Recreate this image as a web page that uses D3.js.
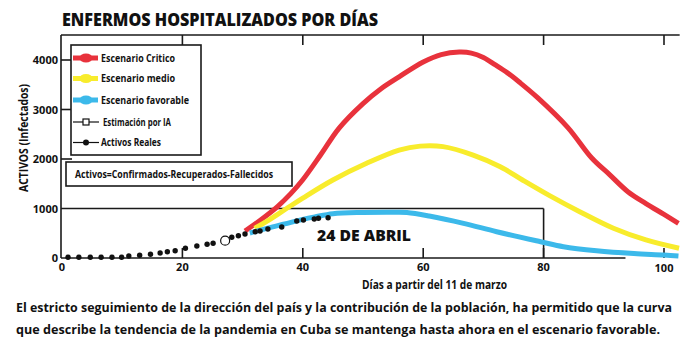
<!DOCTYPE html>
<html>
<head>
<meta charset="utf-8">
<script src="https://cdn.jsdelivr.net/npm/d3@7"></script>
<style>
  body { margin: 0; background: #fff; }
  text { font-family: 'Liberation Sans Narrow', 'Open Sans', sans-serif; font-weight: bold; fill: #111; }
</style>
</head>
<body>
<div id="chart"></div>
<script>
// Escenarios (día desde el 11 de marzo, activos)
const criticoDias = [30.4, 33, 35.8, 38, 40, 43, 46, 50, 53, 56, 60, 63, 66, 68, 70, 72, 74, 76, 79, 84, 88, 91, 94, 97, 100, 102.4]
const criticoVals = [545, 770, 1040, 1300, 1580, 2090, 2620, 3120, 3420, 3660, 3960, 4110, 4160, 4140, 4050, 3900, 3740, 3550, 3240, 2640, 2020, 1680, 1340, 1100, 880, 700]

const medioDias = [32, 34, 37.3, 40, 45, 50.6, 56, 59.5, 63.3, 68.3, 72.8, 76.5, 81, 86, 91.6, 97, 102.5]
const medioVals = [600, 740, 1000, 1210, 1576, 1913, 2180, 2260, 2250, 2080, 1845, 1576, 1260, 935, 600, 364, 196]

const favorableDias = [31.2, 34, 37, 40, 42, 45, 50, 55, 57.3, 61, 66.7, 72.2, 79.5, 83.3, 88.8, 95, 100, 102.4]
const favorableVals = [505, 600, 690, 780, 830, 895, 920, 925, 920, 848, 700, 531, 329, 228, 147, 90, 61, 40]

// Activos reales
const realesDias = [1, 2.8, 4.7, 6.5, 8.3, 9.9, 11.1, 12.9, 14.7, 16.3, 17.5, 18.8, 20.5, 22.4, 24.1, 25.1, 28.2, 29.3, 30.4, 32.1, 32.9, 34.2, 36.5, 39, 40.1, 41.9, 42.6, 44.2]
const realesVals = [15, 15, 15, 15, 15, 15, 40, 55, 75, 100, 127, 147, 196, 242, 277, 297, 418, 450, 485, 531, 545, 586, 626, 747, 768, 788, 802, 814]

// Estimación por IA
const estimacionDias = [27.1]
const estimacionVals = [350]

const xTicks = [0, 20, 40, 60, 80, 100]
const yTicks = [0, 1000, 2000, 3000, 4000]
const yTickLabels = ["0", "1000", "2000", "3000", "4000"]

const legendLabels = ["Escenario Critico", "Escenario medio", "Escenario favorable", "Estimación por IA", "Activos Reales"]
const caption = [
    "El estricto seguimiento de la dirección del país y la contribución de la población, ha permitido que la curva",
    "que describe la tendencia de la pandemia en Cuba se mantenga hasta ahora en el escenario favorable."
]

const colors = {critico: "#e8323c", medio: "#f8ec2c", favorable: "#3cb9ea"}

const width = 700
const height = 351

const svg = d3.select("#chart")
    .append("svg")
    .attr("width", width)
    .attr("height", height)

svg.append("rect").attr("width", width).attr("height", height).attr("fill", "#fff")

// Scales
const x = d3.scaleLinear().domain([0, 100]).range([62, 664])
const y = d3.scaleLinear().domain([0, 4000]).range([258, 60])

const axisColor = "#1a1a1a"

// Title
svg.append("text")
    .attr("x", 62).attr("y", 26)
    .attr("textLength", 316).attr("lengthAdjust", "spacingAndGlyphs")
    .style("font-family", "'Open Sans', sans-serif")
    .style("font-weight", 800)
    .style("font-size", "18px")
    .text("ENFERMOS HOSPITALIZADOS POR DÍAS")

// Frame lines
const frame = svg.append("g").attr("stroke", axisColor).attr("stroke-width", 1.6).attr("fill", "none")
frame.append("line").attr("x1", x(0) - 1).attr("x2", x(0) - 1).attr("y1", 35).attr("y2", y(0))
frame.append("line").attr("x1", x(0) - 1).attr("x2", x(102.6)).attr("y1", 35).attr("y2", 35)
frame.append("line").attr("x1", x(0) - 1).attr("x2", x(93.6)).attr("y1", y(0)).attr("y2", y(0))

// Top ticks
frame.selectAll(".ttick")
    .data(xTicks.filter(d => d > 0))
    .enter().append("line")
    .attr("x1", d => x(d)).attr("x2", d => x(d))
    .attr("y1", 35).attr("y2", 45)

// Bottom ticks
frame.selectAll(".btick")
    .data(xTicks.filter(d => d > 0))
    .enter().append("line")
    .attr("x1", d => x(d)).attr("x2", d => x(d))
    .attr("y1", y(0)).attr("y2", y(0) - 10)

// Left ticks (inward)
frame.selectAll(".ltick")
    .data(yTicks.filter(d => d > 1000))
    .enter().append("line")
    .attr("x1", x(0) - 1).attr("x2", x(0) + 10)
    .attr("y1", d => y(d)).attr("y2", d => y(d))

// 24 de abril box (1000 line to day 80)
frame.append("line").attr("x1", x(0) - 1).attr("x2", x(80)).attr("y1", y(1000)).attr("y2", y(1000))
frame.append("line").attr("x1", x(80)).attr("x2", x(80)).attr("y1", y(1000)).attr("y2", y(0))

// Tick labels
svg.selectAll(".xlabel")
    .data(xTicks)
    .enter().append("text")
    .attr("x", d => x(d))
    .attr("y", d => d === 100 ? 272 : 271)
    .attr("text-anchor", "middle")
    .style("font-size", "11px")
    .text(d => d)

svg.selectAll(".ylabel")
    .data(yTicks)
    .enter().append("text")
    .attr("x", 58)
    .attr("y", d => y(d) + 4)
    .attr("text-anchor", "end")
    .style("font-size", "11px")
    .text((d, i) => yTickLabels[i])

// Axis titles
svg.append("text")
    .attr("transform", "translate(28,138) rotate(-90)")
    .attr("text-anchor", "middle")
    .attr("textLength", 108).attr("lengthAdjust", "spacingAndGlyphs")
    .style("font-size", "12px")
    .text("ACTIVOS (Infectados)")

svg.append("text")
    .attr("x", 362).attr("y", 289)
    .attr("textLength", 145).attr("lengthAdjust", "spacingAndGlyphs")
    .style("font-size", "12px")
    .text("Días a partir del 11 de marzo")

// Scenario curves
const line = d3.line()
    .x(d => x(d[0]))
    .y(d => y(d[1]))
    .curve(d3.curveCatmullRom)

const series = [
    {dias: criticoDias, vals: criticoVals, color: colors.critico},
    {dias: medioDias, vals: medioVals, color: colors.medio},
    {dias: favorableDias, vals: favorableVals, color: colors.favorable}
]

svg.selectAll(".curve")
    .data(series)
    .enter().append("path")
    .attr("d", s => line(s.dias.map((d, i) => [d, s.vals[i]])))
    .attr("fill", "none")
    .attr("stroke", s => s.color)
    .attr("stroke-width", 5)

// Real dots
svg.selectAll(".real")
    .data(realesDias.map((d, i) => [d, realesVals[i]]))
    .enter().append("circle")
    .attr("cx", d => x(d[0]))
    .attr("cy", d => y(d[1]))
    .attr("r", 2.7)
    .attr("fill", "#111")

svg.selectAll(".estim")
    .data(estimacionDias.map((d, i) => [d, estimacionVals[i]]))
    .enter().append("circle")
    .attr("cx", d => x(d[0]))
    .attr("cy", d => y(d[1]))
    .attr("r", 4.5)
    .attr("fill", "#fff")
    .attr("stroke", "#111")
    .attr("stroke-width", 1.2)

// 24 DE ABRIL
svg.append("text")
    .attr("x", 317).attr("y", 241)
    .attr("textLength", 94).attr("lengthAdjust", "spacingAndGlyphs")
    .style("font-family", "'Open Sans', sans-serif")
    .style("font-weight", 800)
    .style("font-size", "16px")
    .text("24 DE ABRIL")

// Legend box
const legend = svg.append("g")
legend.append("rect")
    .attr("x", 71).attr("y", 45).attr("width", 130).attr("height", 110)
    .attr("fill", "#fff").attr("stroke", axisColor).attr("stroke-width", 1.6)

const legendY = [58, 78.5, 100, 122, 142.5]
const legendWidths = [74, 74, 88, 68, 60]
const legendSwatch = [colors.critico, colors.medio, colors.favorable, "#111", "#111"]

legendLabels.forEach((lab, i) => {
    const g = legend.append("g").attr("transform", `translate(0,${legendY[i]})`)
    if (i < 3) {
        g.append("line").attr("x1", 73).attr("x2", 98).attr("y1", 0).attr("y2", 0)
            .attr("stroke", legendSwatch[i]).attr("stroke-width", 5)
        g.append("ellipse").attr("cx", 86).attr("cy", 0).attr("rx", 6.5).attr("ry", 4.5)
            .attr("fill", legendSwatch[i])
    } else {
        g.append("line").attr("x1", 73).attr("x2", 99).attr("y1", 0).attr("y2", 0)
            .attr("stroke", "#111").attr("stroke-width", 1.2)
        if (i === 3) {
            g.append("rect").attr("x", 83).attr("y", -3).attr("width", 6).attr("height", 6)
                .attr("fill", "#fff").attr("stroke", "#111").attr("stroke-width", 1.2)
        } else {
            g.append("circle").attr("cx", 86).attr("cy", 0).attr("r", 3).attr("fill", "#111")
        }
    }
    g.append("text")
        .attr("x", i === 3 ? 103 : 101).attr("y", 3.5)
        .attr("textLength", legendWidths[i]).attr("lengthAdjust", "spacingAndGlyphs")
        .style("font-size", "10px")
        .text(lab)
})

// Formula box
svg.append("rect")
    .attr("x", 66).attr("y", 162).attr("width", 226).attr("height", 24)
    .attr("fill", "#fff").attr("stroke", axisColor).attr("stroke-width", 1.6)
svg.append("text")
    .attr("x", 75).attr("y", 178)
    .attr("textLength", 198).attr("lengthAdjust", "spacingAndGlyphs")
    .style("font-size", "10.5px")
    .text("Activos=Confirmados-Recuperados-Fallecidos")

// Caption
svg.selectAll(".caption")
    .data(caption)
    .enter().append("text")
    .attr("x", 16)
    .attr("y", (d, i) => 312 + i * 22)
    .attr("textLength", (d, i) => i === 0 ? 656 : 644)
    .attr("lengthAdjust", "spacingAndGlyphs")
    .style("font-size", "12.5px")
    .text(d => d)
</script>
</body>
</html>
